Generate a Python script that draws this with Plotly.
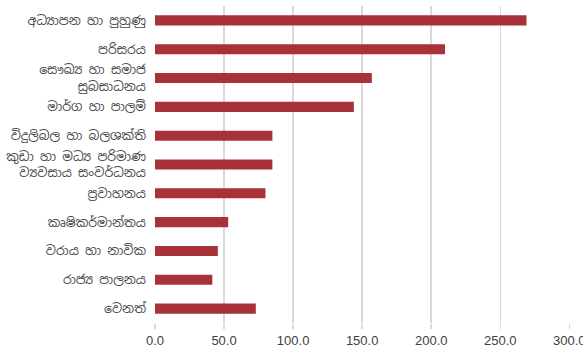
import plotly.graph_objects as go

categories = [
    "අධ්‍යාපන හා පුහුණු",
    "පරිසරය",
    "සෞඛ්‍ය හා සමාජ<br>සුබසාධනය",
    "මාර්ග හා පාලම්",
    "විදුලිබල හා බලශක්ති",
    "කුඩා හා මධ්‍ය පරිමාණ<br>ව්‍යවසාය සංවර්ධනය",
    "ප්‍රවාහනය",
    "කෘෂිකර්මාන්තය",
    "වරාය හා නාවික",
    "රාජ්‍ය පාලනය",
    "වෙනත්",
]
values = [269.0, 210.0, 157.0, 144.0, 85.0, 85.0, 80.0, 53.0, 45.5, 41.5, 73.0]
x_ticks = [0, 50, 100, 150, 200, 250, 300]
x_tick_labels = ["0.0", "50.0", "100.0", "150.0", "200.0", "250.0", "300.0"]

fig = go.Figure(go.Bar(
    x=values,
    y=categories,
    orientation="h",
    marker=dict(color="#A8323A", line=dict(width=0)),
    width=0.35,
    hoverinfo="skip",
))

fig.update_layout(
    width=583,
    height=359,
    margin=dict(l=155, r=13, t=6, b=36, autoexpand=False),
    paper_bgcolor="white",
    plot_bgcolor="white",
    showlegend=False,
    hovermode=False,
    font=dict(family="Noto Sans Sinhala, Noto Sans, Open Sans, sans-serif", color="#404040", size=12),
    bargap=0.65,
)
fig.update_xaxes(
    range=[0, 300.5],
    tickvals=x_ticks,
    ticktext=x_tick_labels,
    showgrid=True,
    gridcolor="#D9D9D9",
    gridwidth=1.5,
    zeroline=False,
    showline=False,
    automargin=False,
    ticklabeloverflow="allow",
    tickfont=dict(family="Liberation Sans, Arial, sans-serif", size=13, color="#404040"),
    ticks="outside",
    ticklen=5,
    tickcolor="#D9D9D9",
    tickwidth=1.5,
)
fig.update_yaxes(
    range=[10.5, -0.5],
    showgrid=False,
    zeroline=False,
    showline=False,
    automargin=False,
    ticks="",
    ticklabelstandoff=8,
    tickfont=dict(size=12.5, color="#4a4a4a"),
)

fig.write_html(
    "out.html",
    config={"displayModeBar": False, "staticPlot": True},
    post_script="document.body.style.margin='0';document.body.style.overflow='hidden';",
)
